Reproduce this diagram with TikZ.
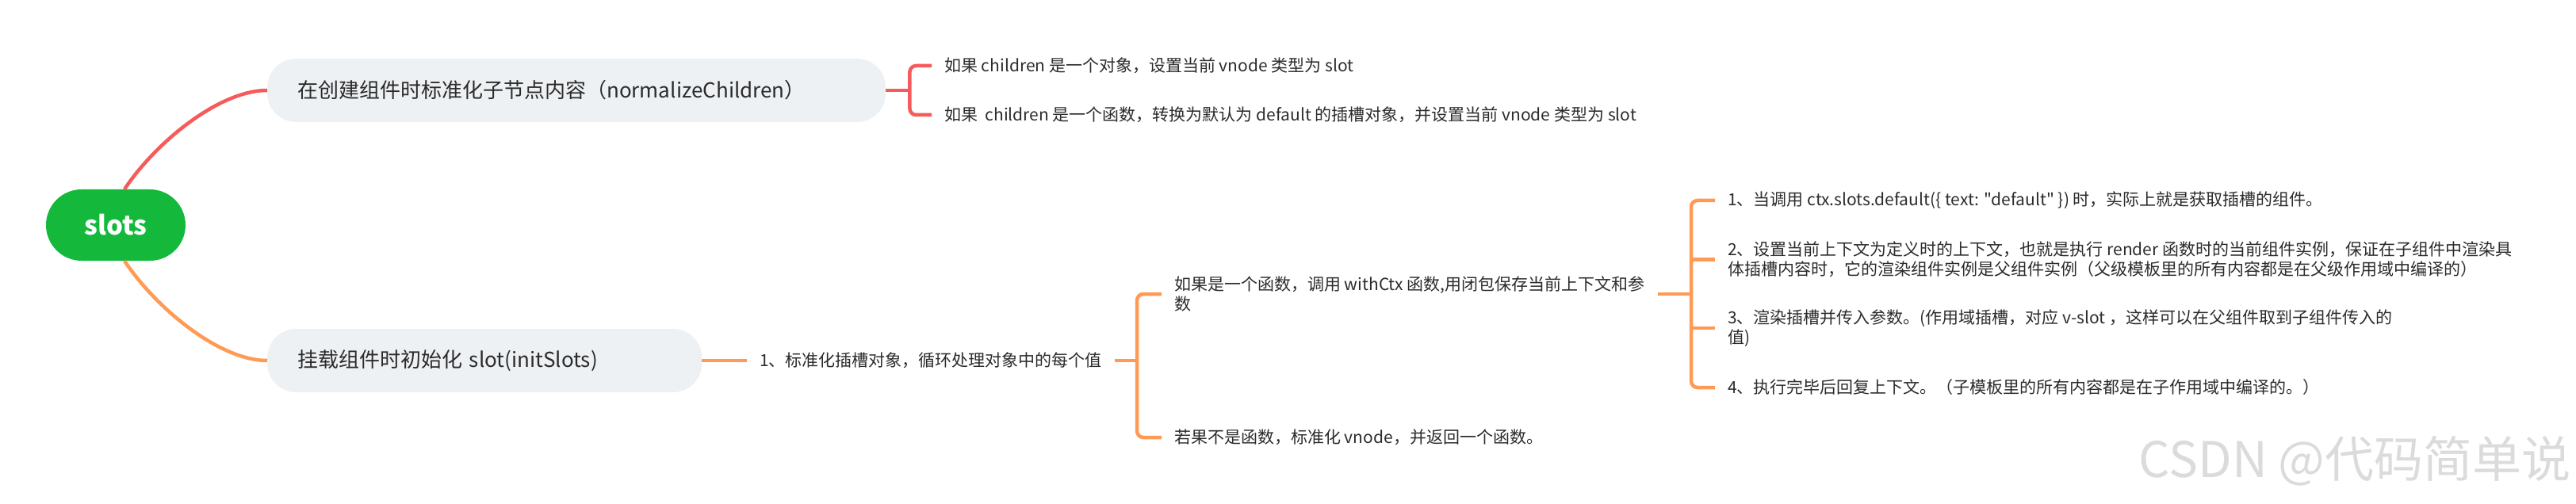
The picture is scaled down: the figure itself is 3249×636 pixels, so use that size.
\documentclass[tikz,border=0pt]{standalone}
\usepackage{fontspec}
\setmainfont{Noto Sans CJK SC}[Ligatures=TeXOff]
\definecolor{mapred}{HTML}{F55B5B}
\definecolor{maporange}{HTML}{FF9A55}
\definecolor{mapgreen}{HTML}{14B93C}
\definecolor{boxgray}{HTML}{EEF1F4}
\definecolor{ink}{HTML}{2B2B2B}
\tikzset{
  root/.style={fill=mapgreen, rounded corners=45pt, minimum width=176pt,
    minimum height=90pt, inner sep=0pt, text=white,
    font=\fontsize{33}{36}\selectfont\bfseries},
  topic/.style={fill=boxgray, rounded corners=36pt, minimum height=80pt,
    anchor=west, inner xsep=38pt, align=left, text=ink,
    font=\fontsize{26}{30}\selectfont},
  leaf/.style={anchor=west, inner xsep=16pt, inner ysep=0pt, align=left,
    text=ink, font=\fontsize{21}{25}\selectfont},
  redline/.style={draw=mapred, line width=4.5pt},
  orangeline/.style={draw=maporange, line width=4.5pt},
  brace/.style={rounded corners=8pt}
}
\begin{document}
\begin{tikzpicture}[x=1pt, y=-1pt]
\useasboundingbox (0,0) rectangle (3249,636);

\node[root] (slots) at (146,284) {slots};
\node[topic, text width=704pt] (norm) at (337,114) {在创建组件时标准化子节点内容（normalizeChildren）};
\node[topic, text width=472pt] (init) at (337,455) {挂载组件时初始化 slot(initSlots)};

% normalizeChildren
\node[leaf] (objcase) at (1175,83) {如果 children 是一个对象，设置当前 vnode 类型为 slot};
\node[leaf] (fncase) at (1175,145) {如果\ \ children 是一个函数，转换为默认为 default 的插槽对象，并设置当前 vnode 类型为 slot};

% initSlots
\node[leaf] (loop) at (942,455) {1、标准化插槽对象，循环处理对象中的每个值};
\node[leaf] (isfn) at (1465,371) {如果是一个函数，调用 withCtx 函数,用闭包保存当前上下文和参\\数};
\node[leaf] (notfn) at (1465,552) {若果不是函数，标准化 vnode，并返回一个函数。};

\node[leaf] (step1) at (2163,253) {1、当调用 ctx.slots.default(\{ text: "default" \}) 时，实际上就是获取插槽的组件。};
\node[leaf] (step2) at (2163,327.5) {2、设置当前上下文为定义时的上下文，也就是执行 render 函数时的当前组件实例，保证在子组件中渲染具\\体插槽内容时，它的渲染组件实例是父组件实例（父级模板里的所有内容都是在父级作用域中编译的）};
\node[leaf] (step3) at (2163,414) {3、渲染插槽并传入参数。(作用域插槽，对应 v-slot ，这样可以在父组件取到子组件传入的\\值)};
\node[leaf] (step4) at (2163,489) {4、执行完毕后回复上下文。（子模板里的所有内容都是在子作用域中编译的。）};

\node[anchor=east, text=black!14, font=\fontsize{62}{70}\selectfont] (mark) at (3246,582) {CSDN @代码简单说};

% branches
\draw[redline] ([xshift=11pt]slots.north) .. controls +(40,-60) and +(-60,0) .. (norm.west);
\draw[orangeline] ([xshift=11pt]slots.south) .. controls +(40,60) and +(-60,0) .. (init.west);

\draw[redline] (norm.east) -- ++(30,0) coordinate (normfork);
\draw[redline, brace] (objcase.west) -| (normfork) |- (fncase.west);

\draw[orangeline] (init.east) -- (loop.west);
\draw[orangeline] (loop.east) -- ++(28,0) coordinate (loopfork);
\draw[orangeline, brace] (isfn.west) -| (loopfork) |- (notfn.west);

\coordinate (stepfork) at ([xshift=-30pt]step1.west |- isfn.east);
\draw[orangeline] (isfn.east) -- (stepfork);
\draw[orangeline, brace] (step1.west) -| (stepfork) |- (step4.west);
\draw[orangeline] (step2.west) -- (step2.west -| stepfork);
\draw[orangeline] (step3.west) -- (step3.west -| stepfork);
\end{tikzpicture}
\end{document}
